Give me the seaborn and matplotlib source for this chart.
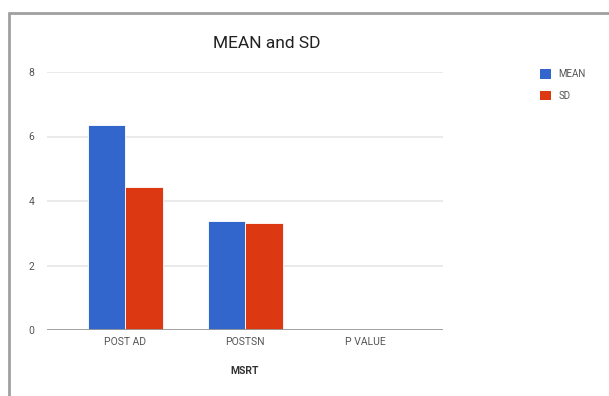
import matplotlib
matplotlib.use("Agg")
import matplotlib.pyplot as plt
import seaborn as sns
import pandas as pd
from matplotlib.lines import Line2D
from matplotlib.patches import Patch

categories = ["POST AD", "POSTSN", "P VALUE"]
mean_values = [6.36, 3.37, 0.0]
sd_values = [4.42, 3.31, 0.0]
series_names = ["MEAN", "SD"]
y_ticks = [0, 2, 4, 6, 8]

df = pd.DataFrame({
    "MSRT": categories * 2,
    "value": mean_values + sd_values,
    "series": [series_names[0]] * len(categories) + [series_names[1]] * len(categories),
})

sns.set_theme(style="white")
plt.rcParams["font.family"] = ["Roboto", "DejaVu Sans"]

W, H = 609, 396
fig = plt.figure(figsize=(W / 100, H / 100), dpi=100)
ax = fig.add_axes([47 / W, (H - 330) / H, (443 - 47) / W, (330 - 72) / H])

colors = {"MEAN": "#3366cc", "SD": "#dc3912"}
sns.barplot(data=df, x="MSRT", y="value", hue="series", palette=colors,
            width=0.625, ax=ax, legend=False, edgecolor="white", linewidth=0.6,
            saturation=1)

ax.set_ylim(0, 8)
ax.set_xlim(-0.65, 2.65)
ax.set_yticks(y_ticks)
ax.set_yticklabels([str(t) for t in y_ticks])
ax.grid(axis="y", color="#e6e6e6", linewidth=1.2)
ax.set_axisbelow(True)
for s in ["top", "right", "left", "bottom"]:
    ax.spines[s].set_visible(False)
ax.axhline(0, color="#9a9a9a", linewidth=2.0, zorder=5)
ax.tick_params(axis="both", length=0, labelsize=7.5, colors="#555555")
ax.tick_params(axis="y", pad=9)
ax.tick_params(axis="x", pad=5)
ax.set_ylabel("")
ax.set_xlabel("MSRT", fontsize=7.5, fontweight="bold", color="#333333", labelpad=14)

fig.text(267 / W, 1 - 43 / H, "MEAN and SD", ha="center", va="center",
         fontsize=12.5, color="#222222")

handles = [Patch(facecolor=colors[n], edgecolor="none") for n in series_names]
leg = fig.legend(handles, series_names, loc="upper left",
                 bbox_to_anchor=(536 / W, 1 - 65 / H), frameon=False,
                 fontsize=7, handlelength=1.15, handleheight=1.15,
                 handletextpad=0.75, labelspacing=1.2, borderaxespad=0)
for t in leg.get_texts():
    t.set_color("#555555")

fig.add_artist(Line2D([8.5 / W, 1.0], [1 - 12.5 / H, 1 - 12.5 / H],
                      transform=fig.transFigure, color="#a0a0a0", linewidth=2))
fig.add_artist(Line2D([8.5 / W, 8.5 / W], [0.0, 1 - 12.5 / H],
                      transform=fig.transFigure, color="#a0a0a0", linewidth=2))

fig.savefig("out.png", dpi=100, facecolor="white")
